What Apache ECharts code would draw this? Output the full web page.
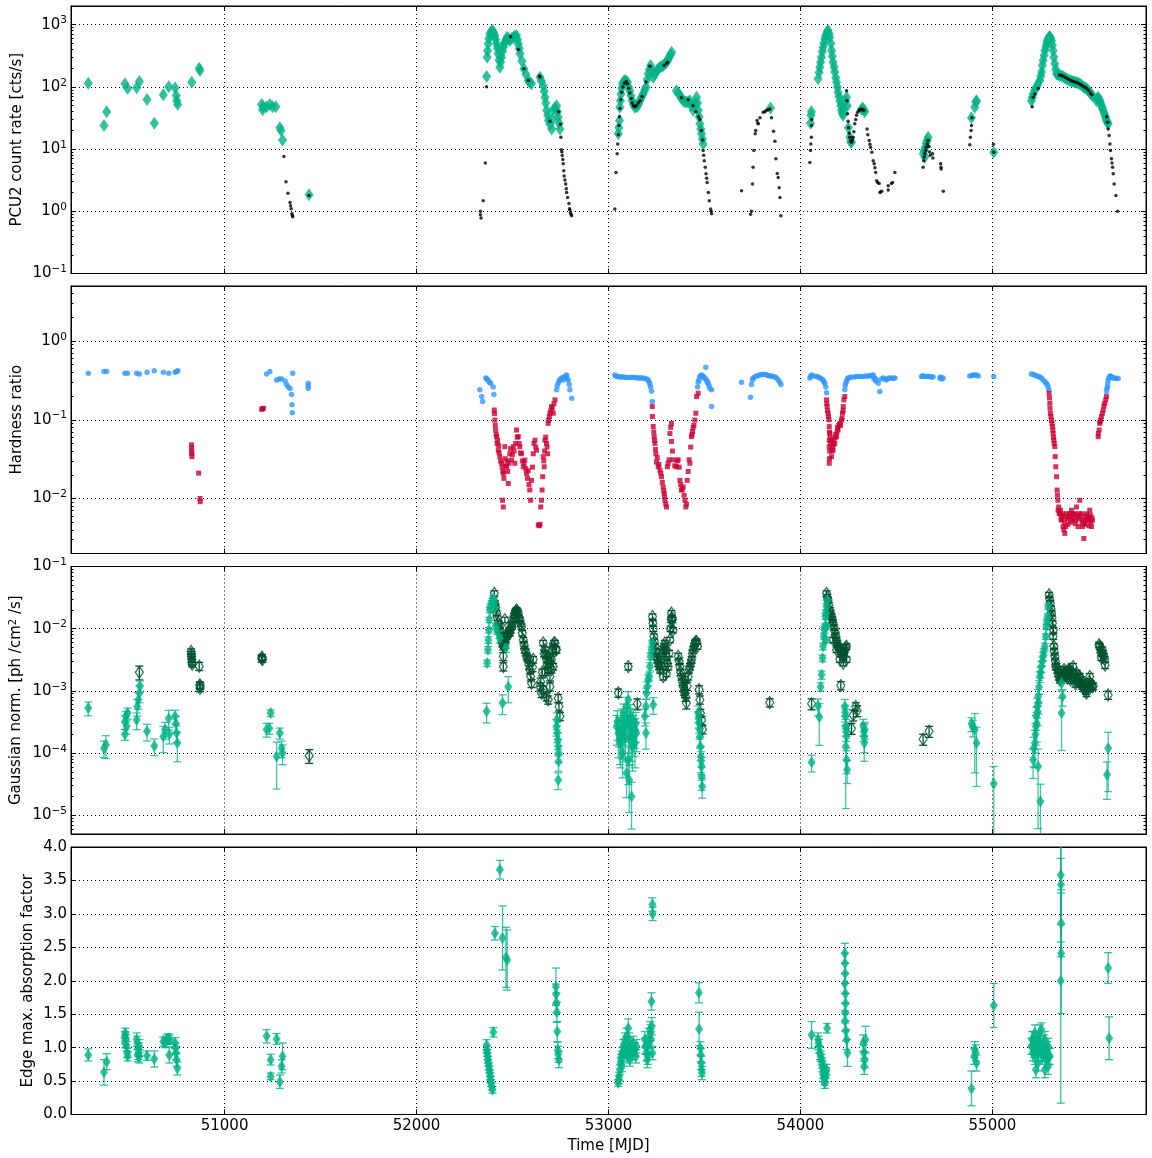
<!DOCTYPE html>
<html><head><meta charset="utf-8">
<script src="https://cdn.jsdelivr.net/npm/echarts@6/dist/echarts.min.js"></script>
<style>html,body{margin:0;padding:0;background:#fff}#c{width:1152px;height:1158px}</style>
</head><body><div id="c"></div>
<script>
// ---------------- DATA ----------------
const xRange = [50200, 55800];
// Panel 1: PCU2 count rate (cts/s)
const rateDiamonds = [
[50290,115],[50372,24],[50386,40],[50481,112],[50495,94],[50542,97],[50556,122],[50596,63],[50634,26],[50681,75],[50709,101],[50742,97],[50748,73],[50751,60],[50756,52],[50829,119],[50868,200],[50872,184],
[51193,52],[51198,43],[51202,48],[51219,48],[51236,52],[51250,48],[51267,48],[51288,22],[51294,20],[51302,14],[51440,1.85],
[52365,147],[52368,300],[52370,380],[52373,494],[52377,600],[52382,716],[52389,780],[52396,810],[52402,740],[52408,673],[52412,580],[52417,494],[52421,420],[52425,341],[52430,270],[52434,208],[52438,250],[52443,300],[52448,370],[52452,436],[52456,480],[52460,525],[52466,580],[52472,631],[52479,600],[52486,558],[52495,600],[52504,631],[52512,650],[52521,673],[52526,580],[52530,494],[52535,420],[52539,341],[52549,260],[52559,196],[52570,160],[52582,127],[52590,118],[52599,112],[52643,143],[52650,125],[52660,105],[52665,85],[52669,68],[52673,55],[52678,42],[52683,35],[52687,29],[52695,25],[52704,21],[52708,30],[52712,42],[52720,46],[52730,50],[52734,40],[52738,32.5],[52743,26],[52747,21],
[53051,17.6],[53054,22],[53057,28.8],[53059,47],[53062,60],[53065,77],[53069,95],[53073,112],[53079,122],[53085,127],[53092,125],[53099,119],[53105,100],[53111,87],[53117,72],[53123,60],[53130,52],[53137,47],[53149,48],[53157,53],[53164,60],[53172,68],[53181,77],[53188,88],[53195,99],[53201,130],[53207,162],[53213,190],[53219,221],[53226,180],[53233,143],[53242,160],[53251,184],[53260,196],[53268,208],[53277,215],[53285,221],[53294,235],[53303,250],[53310,270],[53316,300],[53323,330],[53329,362],
[53354,87],[53363,80],[53372,73],[53380,66],[53389,60],[53398,58],[53407,57],[53415,58],[53424,60],[53432,50],[53441,42],[53450,55],[53459,68],[53464,55],[53468,42],[53472,33],[53476,25.5],[53481,21],[53485,17.6],[53489,14.5],[53493,12.1],
[53844,46],
[54052,26],[54055,35],[54057,40],[54092,135],[54097,170],[54101,208],[54105,250],[54109,300],[54114,370],[54118,436],[54122,510],[54127,596],[54131,660],[54136,716],[54140,780],[54144,810],[54149,720],[54153,631],[54158,500],[54162,385],[54166,310],[54170,250],[54175,210],[54179,173],[54184,140],[54188,119],[54192,100],[54196,82],[54201,70],[54205,60],[54210,50],[54214,42],[54218,38],[54222,35],[54228,45],[54235,60],[54240,68],[54244,50],[54250,22],[54257,15.5],[54262,13],[54266,12.9],[54318,44],[54325,46],[54330,42],[54335,40],
[54640,8.4],[54645,9.5],[54650,10.7],[54655,12.5],[54660,13.7],[54665,15.5],[54648,7.5],
[54891,32],[54908,47],[54914,57],[54917,60],[55007,8.9],
[55203,60],[55208,68],[55212,77],[55220,88],[55229,99],[55238,112],[55247,127],[55252,150],[55256,173],[55260,220],[55264,266],[55269,320],[55273,385],[55278,440],[55282,494],[55286,550],[55290,596],[55295,630],[55299,648],[55303,610],[55308,558],[55312,470],[55316,385],[55320,300],[55325,236],[55330,190],[55334,162],[55342,157],[55351,153],[55360,150],[55368,147],[55377,140],[55386,135],[55395,130],[55403,127],[55412,124],[55420,122],[55429,120],[55438,119],[55446,115],[55455,112],[55464,106],[55473,101],[55481,97],[55490,94],[55498,88],[55507,82],[55514,77],[55521,73],
[55542,60],[55546,65],[55551,68],[55555,64],[55559,60],[55563,55],[55568,50],[55572,46],[55577,42],[55581,38],[55586,35],[55590,32],[55594,29],[55599,27],[55603,25.5]
];
const rateDots = [
[51309,7.6],[51320,3.0],[51330,1.95],[51341,1.39],[51344,1.23],[51347,1.1],[51351,0.91],[51355,0.82],[51353,0.86],[51440,1.8],
[52333,0.88],[52333,1.0],[52336,0.78],[52347,1.48],[52358,6.0],[52365,101],[52490,640],[52530,400],[52559,196],[52582,127],[52640,150],[52643,145],[52695,28],[52740,40],[52750,25],[52752,15.5],[52755,9.8],[52757,9.0],[52759,7.9],[52762,6.8],[52764,5.8],[52767,4.5],[52769,3.7],[52773,3.2],[52777,2.75],[52780,2.3],[52782,2.0],[52787,1.67],[52794,1.34],[52797,1.1],[52799,1.05],[52802,0.95],[52805,0.9],[52808,0.85],
[53033,1.09],[53039,4.2],[53045,8.4],[53048,12.1],[53051,17],[53054,24],[53057,33],[53060,45],[53064,62],[53068,82],[53075,100],[53083,115],[53092,122],[53099,112],[53105,95],[53111,80],[53118,65],[53123,55],[53130,50],[53137,48],[53145,50],[53155,55],[53165,60],[53175,70],[53195,120],[53216,215],[53290,220],[53303,240],[53308,250],[53380,67],[53415,62],[53440,50],[53455,40],[53468,33],[53476,30],[53484,20],[53490,14],[53493,9.5],[53496,8],[53499,6.5],[53504,5.1],[53508,4.0],[53511,3.4],[53514,2.9],[53520,2.0],[53525,1.48],[53532,1.09],[53535,1.0],[53537,0.91],
[53693,2.15],[53740,0.9],[53745,1.0],[53750,2.75],[53753,5.1],[53757,9.5],[53764,17.6],[53767,19.9],[53774,28.8],[53778,26],[53780,25.5],[53789,32],[53806,39],[53815,40],[53823,42],[53832,43],[53841,44],[53849,32],[53860,19.4],[53867,13.4],[53872,7.0],[53879,4.07],[53884,3.5],[53889,2.4],[53893,1.67],[53898,0.85],
[54049,6.1],[54052,9.5],[54054,12.1],[54057,15.5],[54058,24],[54059,30],[54240,87],[54242,60],[54245,37],[54248,28],[54250,22],[54254,18],[54257,15.5],[54262,13.5],[54266,12.9],[54270,14],[54274,15.5],[54278,19],[54283,25.5],[54288,30],[54292,35],[54298,39],[54305,42],[54311,43],[54318,44],[54324,43],[54330,42],[54347,21],[54351,17],[54358,13.7],[54362,12],[54365,10.7],[54372,8.9],[54379,6.5],[54384,5.8],[54388,5.0],[54392,4.2],[54397,3.1],[54402,2.9],[54410,2.8],[54414,2.0],[54418,2.05],[54423,2.1],[54457,2.2],[54457,2.58],[54474,2.8],[54480,2.9],[54492,4.2],
[54639,5.1],[54642,6.5],[54645,7.5],[54648,8.4],[54652,9.5],[54655,10.7],[54660,12.1],[54665,13.7],[54670,11],[54673,9],[54676,8],[54688,8.4],[54690,7.2],[54730,5.8],[54732,5.1],[54733,4.8],[54744,2.1],
[54882,11.8],[54885,15.5],[54889,19.9],[54891,24],[54893,32],
[55005,12],[55007,8.9],[55207,48],[55212,68],[55221,77],[55238,94],[55350,155],[55360,152],[55370,148],[55380,142],[55390,137],[55400,130],[55410,126],[55420,122],[55430,120],[55440,118],[55450,114],[55460,108],[55470,103],[55480,100],[55490,95],[55500,88],[55510,80],[55518,75],[55595,33],[55600,27],[55603,21],[55608,16.5],[55612,12.1],[55615,9.5],[55620,7.0],[55623,6.0],[55626,5.1],[55629,4.0],[55634,2.75],[55643,1.79],[55652,1.0]
];
// Panel 2: hardness ratio
const hardSoft = [
[50290,0.39],[50372,0.41],[50386,0.41],[50481,0.39],[50495,0.39],[50542,0.39],[50556,0.38],[50596,0.40],[50634,0.42],[50681,0.40],[50709,0.39],[50742,0.40],[50751,0.41],[50756,0.42],
[51219,0.38],[51236,0.41],[51271,0.32],[51285,0.33],[51297,0.33],[51315,0.31],[51323,0.28],[51332,0.26],[51341,0.25],[51349,0.21],[51351,0.155],[51353,0.123],[51355,0.39],[51436,0.29],[51436,0.25],[51436,0.27],
[52330,0.24],[52339,0.197],[52344,0.17],[52361,0.34],[52366,0.33],[52373,0.32],[52380,0.30],[52386,0.29],[52399,0.26],[52403,0.21],
[52730,0.24],[52733,0.27],[52738,0.29],[52742,0.31],[52747,0.32],[52752,0.33],[52756,0.34],[52764,0.32],[52768,0.35],[52773,0.34],[52778,0.36],[52782,0.37],[52786,0.33],[52790,0.32],[52795,0.28],[52799,0.24],[52808,0.188],
[53033,0.37],[53040,0.355],[53050,0.355],[53060,0.35],[53070,0.35],[53080,0.35],[53090,0.345],[53100,0.345],[53110,0.345],[53120,0.345],[53130,0.345],[53140,0.345],[53150,0.34],[53160,0.34],[53170,0.34],[53180,0.34],[53190,0.335],[53200,0.33],[53207,0.32],[53212,0.30],[53216,0.28],[53219,0.26],[53224,0.23],[53228,0.17],
[53464,0.26],[53467,0.30],[53471,0.32],[53476,0.355],[53480,0.36],[53485,0.37],[53489,0.36],[53493,0.355],[53498,0.34],[53502,0.34],[53507,0.466],[53511,0.32],[53515,0.30],[53519,0.29],[53524,0.27],[53528,0.25],[53537,0.24],[53537,0.147],
[53693,0.30],[53740,0.193],[53745,0.28],[53750,0.32],[53754,0.34],[53762,0.35],[53771,0.36],[53780,0.365],[53789,0.37],[53798,0.375],[53806,0.375],[53815,0.375],[53823,0.37],[53832,0.365],[53840,0.36],[53849,0.36],[53858,0.355],[53866,0.35],[53875,0.34],[53884,0.32],[53893,0.30],[53898,0.28],
[54049,0.34],[54053,0.36],[54058,0.37],[54070,0.36],[54084,0.355],[54092,0.35],[54101,0.34],[54110,0.33],[54118,0.32],[54123,0.30],[54127,0.29],[54132,0.26],[54136,0.22],
[54231,0.24],[54233,0.27],[54236,0.29],[54240,0.31],[54245,0.33],[54249,0.34],[54257,0.345],[54266,0.35],[54280,0.35],[54292,0.355],[54305,0.355],[54315,0.355],[54327,0.355],[54340,0.36],[54350,0.36],[54361,0.36],[54370,0.365],[54379,0.37],[54383,0.33],[54387,0.34],[54392,0.31],[54396,0.32],[54405,0.29],[54413,0.228],[54422,0.33],[54431,0.34],[54440,0.33],[54448,0.32],[54457,0.335],[54466,0.34],[54475,0.34],[54484,0.335],[54492,0.34],
[54631,0.355],[54635,0.36],[54639,0.36],[54648,0.355],[54657,0.355],[54665,0.355],[54674,0.355],[54683,0.35],[54691,0.35],[54726,0.34],[54730,0.35],[54735,0.33],[54743,0.34],
[54882,0.36],[54891,0.365],[54900,0.37],[54908,0.37],[54917,0.37],[54926,0.36],
[55007,0.355],[55203,0.38],[55212,0.375],[55221,0.37],[55230,0.36],[55238,0.355],[55247,0.35],[55255,0.34],[55264,0.32],[55273,0.305],[55280,0.29],[55285,0.28],[55290,0.26],[55294,0.24],
[55594,0.228],[55597,0.25],[55599,0.26],[55601,0.29],[55603,0.32],[55607,0.34],[55611,0.355],[55615,0.36],[55620,0.35],[55625,0.345],[55629,0.34],[55638,0.34],[55646,0.335],[55655,0.335]
];
const hardHard = [
[50828,0.048],[50828,0.044],[50829,0.040],[50829,0.037],[50830,0.034],[50865,0.021],[50872,0.010],[50873,0.0091],
[51193,0.136],[51198,0.138],[51202,0.14],
[52405,0.133],[52406,0.12],[52408,0.099],[52410,0.085],[52412,0.074],[52415,0.065],[52417,0.061],[52420,0.050],[52422,0.055],[52426,0.041],[52428,0.047],[52430,0.038],[52434,0.034],[52438,0.030],[52443,0.028],[52446,0.025],[52448,0.0095],[52450,0.022],[52452,0.0078],[52452,0.0208],[52455,0.018],[52460,0.0455],[52462,0.032],[52465,0.026],[52469,0.0253],[52472,0.03],[52475,0.022],[52478,0.0155],[52482,0.028],[52486,0.037],[52490,0.043],[52495,0.0308],[52499,0.036],[52504,0.0455],[52508,0.04],[52512,0.028],[52516,0.05],[52521,0.074],[52525,0.06],[52530,0.061],[52534,0.05],[52538,0.0455],[52542,0.038],[52547,0.037],[52551,0.03],[52556,0.0253],[52560,0.028],[52564,0.0308],[52569,0.024],[52573,0.0208],[52578,0.018],[52582,0.0225],[52586,0.015],[52590,0.0128],[52594,0.0095],[52599,0.017],[52604,0.025],[52608,0.037],[52612,0.05],[52617,0.055],[52621,0.045],[52625,0.041],[52634,0.0046],[52640,0.0045],[52643,0.0047],[52647,0.0078],[52651,0.0095],[52654,0.0128],[52657,0.0189],[52660,0.034],[52663,0.03],[52665,0.0253],[52667,0.04],[52669,0.055],[52673,0.06],[52677,0.050],[52680,0.045],[52683,0.037],[52686,0.09],[52688,0.099],[52692,0.11],[52695,0.121],[52699,0.13],[52703,0.147],[52707,0.14],[52712,0.121],[52716,0.16],[52721,0.179],
[53228,0.147],[53229,0.11],[53233,0.082],[53236,0.07],[53238,0.061],[53240,0.055],[53242,0.050],[53245,0.042],[53247,0.037],[53250,0.029],[53254,0.033],[53259,0.0253],[53263,0.027],[53268,0.023],[53272,0.021],[53276,0.0189],[53280,0.016],[53285,0.014],[53288,0.0125],[53290,0.0116],[53292,0.0105],[53294,0.0095],[53298,0.0085],[53302,0.0078],[53307,0.0253],[53311,0.028],[53316,0.031],[53320,0.067],[53324,0.08],[53328,0.09],[53328,0.053],[53333,0.04],[53337,0.031],[53345,0.026],[53354,0.0253],[53358,0.03],[53363,0.031],[53368,0.025],[53372,0.017],[53376,0.015],[53380,0.0128],[53384,0.013],[53389,0.014],[53394,0.011],[53398,0.0095],[53403,0.0078],[53406,0.0085],[53410,0.017],[53415,0.022],[53420,0.031],[53424,0.028],[53428,0.045],[53432,0.061],[53435,0.065],[53438,0.071],[53441,0.08],[53445,0.085],[53450,0.099],[53455,0.121],[53459,0.197],[53467,0.217],
[54136,0.179],[54137,0.16],[54139,0.147],[54141,0.13],[54144,0.121],[54146,0.11],[54148,0.1],[54150,0.082],[54152,0.07],[54150,0.055],[54153,0.067],[54155,0.06],[54150,0.0455],[54152,0.04],[54150,0.028],[54151,0.032],[54157,0.05],[54160,0.055],[54162,0.034],[54164,0.04],[54166,0.045],[54170,0.041],[54172,0.048],[54175,0.056],[54179,0.050],[54182,0.06],[54184,0.065],[54188,0.061],[54190,0.07],[54193,0.08],[54196,0.074],[54200,0.085],[54205,0.09],[54209,0.085],[54214,0.099],[54217,0.105],[54219,0.121],[54222,0.13],[54223,0.147],[54226,0.179],[54231,0.197],
[55295,0.217],[55297,0.19],[55299,0.162],[55300,0.14],[55302,0.121],[55305,0.11],[55308,0.099],[55310,0.09],[55313,0.082],[55315,0.074],[55316,0.067],[55318,0.06],[55320,0.055],[55322,0.05],[55325,0.0455],[55327,0.034],[55330,0.0253],[55334,0.0189],[55337,0.0128],[55339,0.011],[55341,0.0095],[55342,0.0071],[55345,0.0078],[55348,0.0065],[55351,0.0064],[55354,0.0071],[55357,0.0055],[55360,0.0053],[55363,0.006],[55365,0.0064],[55368,0.0044],[55372,0.004],[55375,0.005],[55377,0.0036],[55380,0.0058],[55382,0.0044],[55386,0.0064],[55390,0.0055],[55394,0.0047],[55398,0.006],[55400,0.0064],[55403,0.0058],[55407,0.005],[55412,0.0071],[55415,0.0055],[55417,0.0064],[55420,0.0053],[55424,0.0062],[55429,0.0064],[55432,0.0048],[55434,0.0053],[55438,0.0078],[55442,0.006],[55446,0.0044],[55450,0.0055],[55452,0.0064],[55455,0.0095],[55460,0.0058],[55464,0.0064],[55467,0.005],[55469,0.0044],[55472,0.0053],[55476,0.0031],[55478,0.0048],[55481,0.0047],[55484,0.006],[55486,0.0053],[55490,0.0064],[55494,0.0055],[55498,0.0053],[55502,0.0045],[55504,0.0058],[55507,0.0071],[55510,0.0062],[55513,0.005],[55516,0.0044],[55518,0.0057],[55521,0.0053],
[55551,0.061],[55552,0.067],[55556,0.074],[55559,0.09],[55561,0.094],[55563,0.099],[55568,0.11],[55573,0.121],[55577,0.133],[55581,0.15],[55585,0.162],[55590,0.179],[55594,0.197]
];
// Panel 3: Gaussian norm. [mjd, value, relative error]
const gaussFilled = [
[50290,5.3e-4,0.25],[50372,1.2e-4,0.3],[50382,1.36e-4,0.4],[50481,3.2e-4,0.25],[50486,3.9e-4,0.2],[50490,2.7e-4,0.25],[50495,4.4e-4,0.2],[50481,2.0e-4,0.2],[50542,3.4e-4,0.3],[50545,5.6e-4,0.3],[50551,7.2e-4,0.3],[50556,9.2e-4,0.3],[50559,1.2e-3,0.2],[50596,2.24e-4,0.3],[50634,1.3e-4,0.3],[50681,1.85e-4,0.45],[50690,2.4e-4,0.3],[50709,3.6e-4,0.35],[50712,2.0e-4,0.3],[50742,3.9e-4,0.25],[50747,3.0e-4,0.3],[50750,2.1e-4,0.3],[50754,1.45e-4,0.5],
[51219,2.4e-4,0.25],[51233,2.5e-4,0.2],[51240,4.4e-4,0.12],[51271,8.8e-5,0.7],[51288,2.1e-4,0.2],[51297,1.2e-4,0.3],[51302,1.0e-4,0.35],
[52365,4.7e-4,0.35],[52368,2.8e-3,0.12],[52372,4.6e-3,0.12],[52374,6.6e-3,0.12],[52377,9.5e-3,0.1],[52379,1.39e-2,0.1],[52382,2.0e-2,0.1],[52386,2.3e-2,0.1],[52391,2.57e-2,0.1],[52395,2.8e-2,0.1],[52400,3.1e-2,0.1],[52404,2.9e-2,0.1],[52408,2.2e-2,0.1],[52413,1.08e-2,0.1],[52420,9.0e-3,0.1],[52434,7.0e-3,0.15],[52448,6.4e-4,0.35],[52466,4.9e-3,0.15],[52478,1.17e-3,0.45],
[52729,2.68e-4,0.3],[52731,3.4e-4,0.3],[52733,2.1e-4,0.3],[52736,1.63e-4,0.3],[52738,1.28e-4,0.3],[52740,1.0e-4,0.3],[52740,7.3e-5,0.3],[52738,3.7e-5,0.3],
[53042,2.68e-4,0.5],[53046,3.2e-4,0.5],[53051,2.1e-4,0.6],[53055,2.5e-4,0.5],[53059,1.63e-4,0.6],[53063,1.45e-4,0.6],[53068,3.4e-4,0.5],[53071,2.0e-4,0.6],[53073,1.0e-4,0.6],[53077,4.4e-4,0.4],[53080,2.1e-4,0.6],[53083,3.0e-4,0.5],[53085,2.68e-4,0.5],[53088,1.8e-4,0.6],[53094,5.6e-4,0.4],[53094,4.8e-5,0.6],[53098,3.6e-4,0.5],[53103,7.2e-4,0.35],[53103,7.8e-5,0.6],[53106,2.5e-4,0.6],[53108,3.7e-5,0.7],[53111,3.4e-4,0.5],[53111,1.63e-4,0.6],[53115,4.0e-4,0.5],[53120,1.85e-4,0.6],[53120,2.0e-5,0.7],[53125,1.28e-4,0.6],[53129,2.68e-4,0.5],[53129,3.4e-4,0.5],[53133,2.2e-4,0.6],[53138,1.45e-4,0.6],[53138,2.4e-4,0.5],[53142,3.0e-4,0.5],[53146,2.1e-4,0.5],
[53189,3.9e-4,0.3],[53195,5.6e-4,0.3],[53195,2.1e-4,0.45],[53198,9.2e-4,0.2],[53202,1.17e-3,0.2],[53207,1.51e-3,0.2],[53212,1.7e-3,0.15],[53216,2.46e-3,0.15],[53219,3.6e-3,0.12],[53224,4.6e-3,0.1],[53228,5.9e-3,0.1],[53233,6.0e-4,0.3],
[53467,4.4e-4,0.3],[53469,3.6e-4,0.3],[53472,3.0e-4,0.3],[53474,2.4e-4,0.3],[53476,1.85e-4,0.35],[53479,1.28e-4,0.4],[53481,8.8e-5,0.45],[53483,7.5e-5,0.4],[53485,6.1e-5,0.4],[53485,4.2e-5,0.4],[53488,2.9e-5,0.35],
[54058,7.1e-5,0.3],[54092,5.7e-4,0.3],[54098,3.8e-4,0.65],[54105,1.17e-3,0.15],[54110,1.81e-3,0.15],[54115,3.36e-3,0.12],[54118,5.2e-3,0.12],[54122,7.5e-3,0.1],[54125,9.5e-3,0.1],[54127,1.08e-2,0.1],[54130,1.57e-2,0.1],[54133,1.8e-2,0.1],[54136,2.27e-2,0.1],[54139,2.9e-2,0.1],[54136,1.1e-2,0.1],[54132,6.6e-3,0.1],
[54231,5.6e-4,0.3],[54233,4.5e-4,0.3],[54235,3.9e-4,0.3],[54236,2.68e-4,0.3],[54238,2.2e-4,0.3],[54240,1.85e-4,0.35],[54236,1.28e-4,0.9],[54240,7.8e-5,0.4],[54243,5.4e-5,0.4],[54327,2.68e-4,0.3],[54330,2.2e-4,0.3],[54332,1.85e-4,0.6],[54335,2.4e-4,0.3],[54333,1.45e-4,0.3],
[54891,2.95e-4,0.25],[54898,2.6e-4,0.3],[54908,2.4e-4,0.8],[54917,1.45e-4,0.8],
[55007,3.2e-5,0.9],
[55212,7.8e-5,0.5],[55215,1.2e-4,0.5],[55221,1.45e-4,0.6],[55224,2.0e-4,0.5],[55226,2.68e-4,0.5],[55229,3.9e-4,0.4],[55231,3.0e-4,0.5],[55233,5.6e-4,0.35],[55236,4.6e-4,0.4],[55238,8.1e-4,0.3],[55238,6.1e-5,0.9],[55241,6.5e-4,0.35],[55243,1.17e-3,0.25],[55247,1.7e-3,0.2],[55250,1.66e-5,0.9],[55251,2.0e-3,0.2],[55255,2.46e-3,0.2],[55260,3.0e-3,0.15],[55264,3.6e-3,0.15],[55268,4.3e-3,0.12],[55273,5.2e-3,0.12],[55278,7.5e-3,0.1],[55281,1.08e-2,0.1],[55284,1.3e-2,0.1],[55287,1.57e-2,0.1],[55290,2.27e-2,0.1],
[55360,1.33e-3,0.25],[55365,8.1e-4,0.3],[55360,4.4e-4,0.75],
[55597,4.5e-5,0.6],[55603,1.2e-4,0.8]
];
const gaussHollow = [
[50556,2.0e-3,0.25],[50826,4.3e-3,0.1],[50827,3.9e-3,0.1],[50828,3.6e-3,0.1],[50829,3.2e-3,0.1],[50830,2.9e-3,0.1],[50831,2.7e-3,0.1],[50868,2.5e-3,0.15],[50871,1.25e-3,0.12],[50872,1.1e-3,0.12],[50873,1.2e-3,0.12],
[51193,3.3e-3,0.12],[51195,3.5e-3,0.1],[51198,3.2e-3,0.1],[51441,9.1e-5,0.25],
[52405,3.7e-2,0.1],[52408,2.57e-2,0.1],[52412,2.2e-2,0.1],[52417,1.78e-2,0.1],[52421,1.5e-2,0.1],[52426,1.23e-2,0.1],[52430,1.1e-2,0.1],[52434,9.5e-3,0.1],[52438,8.0e-3,0.1],[52443,6.6e-3,0.1],[52447,5.8e-3,0.12],[52452,5.2e-3,0.12],[52452,3.6e-3,0.15],[52456,5.5e-3,0.12],[52460,5.9e-3,0.12],[52460,1.39e-2,0.1],[52452,2.46e-3,0.15],[52465,6.8e-3,0.1],[52469,7.5e-3,0.1],[52474,8.0e-3,0.1],[52478,8.5e-3,0.1],[52482,9.5e-3,0.1],[52486,8.5e-3,0.1],[52490,9.5e-3,0.1],[52495,1.08e-2,0.1],[52499,1.2e-2,0.1],[52504,1.39e-2,0.1],[52508,1.6e-2,0.1],[52512,1.8e-2,0.1],[52517,1.9e-2,0.1],[52521,2.0e-2,0.1],[52525,1.9e-2,0.1],[52530,1.78e-2,0.1],[52534,1.5e-2,0.1],[52538,1.39e-2,0.1],[52542,1.2e-2,0.1],[52547,1.08e-2,0.1],[52551,8.5e-3,0.1],[52556,6.6e-3,0.1],[52560,5.5e-3,0.12],[52564,4.6e-3,0.12],[52569,4.2e-3,0.12],[52573,3.6e-3,0.12],[52578,3.4e-3,0.12],[52582,3.2e-3,0.12],[52586,2.6e-3,0.15],[52590,2.2e-3,0.15],[52595,1.7e-3,0.15],[52599,1.33e-3,0.15],[52604,2.4e-3,0.15],[52608,3.2e-3,0.12],
[52643,1.17e-3,0.15],[52647,1.4e-3,0.15],[52651,9.2e-4,0.15],[52655,2.0e-3,0.12],[52660,5.9e-3,0.1],[52660,1.05e-3,0.15],[52664,4.0e-3,0.12],[52669,4.6e-3,0.1],[52669,2.0e-3,0.12],[52673,3.8e-3,0.12],[52677,3.2e-3,0.12],[52677,8.1e-4,0.15],[52681,2.6e-3,0.12],[52686,2.2e-3,0.12],[52686,7.2e-4,0.15],[52690,3.0e-3,0.12],[52695,1.7e-3,0.15],[52695,1.17e-3,0.15],[52699,3.5e-3,0.12],[52703,3.2e-3,0.12],[52703,2.2e-3,0.12],[52708,4.5e-3,0.12],[52712,5.2e-3,0.1],[52712,2.46e-3,0.12],[52716,5.9e-3,0.1],[52721,5.9e-3,0.1],[52725,4.6e-3,0.12],[52729,4.6e-3,0.12],[52738,7.6e-4,0.15],[52742,5.6e-4,0.15],[52747,3.9e-4,0.15],
[53051,9.3e-4,0.15],[53103,2.46e-3,0.12],[53150,6.2e-4,0.2],
[53229,1.57e-2,0.1],[53231,1.23e-2,0.1],[53233,1.0e-2,0.1],[53236,7.5e-3,0.1],[53239,6.2e-3,0.1],[53242,5.2e-3,0.1],[53246,4.3e-3,0.12],[53250,3.6e-3,0.12],[53255,3.2e-3,0.12],[53259,2.8e-3,0.12],[53264,2.5e-3,0.12],[53268,2.2e-3,0.12],[53272,2.6e-3,0.12],[53276,3.2e-3,0.12],[53280,4.0e-3,0.12],[53285,4.6e-3,0.12],[53290,5.2e-3,0.1],[53294,5.9e-3,0.1],[53298,4.5e-3,0.1],[53302,3.6e-3,0.12],[53302,1.93e-3,0.12],[53306,2.8e-3,0.12],[53311,2.46e-3,0.12],[53316,4.0e-3,0.12],[53320,6.6e-3,0.1],[53323,1.0e-2,0.1],[53326,1.4e-2,0.1],[53328,1.78e-2,0.1],[53331,1.5e-2,0.1],[53333,1.39e-2,0.1],[53336,9.5e-3,0.1],[53285,1.7e-3,0.12],
[53363,3.6e-3,0.12],[53368,3.0e-3,0.12],[53372,2.46e-3,0.12],[53376,2.0e-3,0.12],[53380,1.7e-3,0.12],[53385,1.4e-3,0.12],[53389,1.17e-3,0.15],[53394,1.0e-3,0.15],[53398,9.2e-4,0.15],[53402,8.0e-4,0.15],[53406,6.4e-4,0.2],[53398,1.51e-3,0.12],[53410,1.2e-3,0.15],[53415,1.7e-3,0.12],[53420,2.2e-3,0.12],[53424,2.46e-3,0.12],[53429,2.8e-3,0.12],[53433,3.2e-3,0.12],[53437,4.0e-3,0.12],[53441,4.6e-3,0.12],[53446,5.2e-3,0.1],[53450,5.9e-3,0.1],[53455,6.2e-3,0.1],[53459,6.2e-3,0.1],[53464,5.2e-3,0.1],[53472,1.05e-3,0.15],[53476,7.2e-4,0.15],[53479,4.4e-4,0.15],[53485,3.4e-4,0.15],[53490,2.4e-4,0.15],
[53840,6.5e-4,0.15],
[54058,6.2e-4,0.2],[54136,3.7e-2,0.1],[54140,3.2e-2,0.1],[54144,2.9e-2,0.1],[54148,2.4e-2,0.1],[54153,2.0e-2,0.1],[54157,1.78e-2,0.1],[54162,1.57e-2,0.1],[54166,1.4e-2,0.1],[54170,1.23e-2,0.1],[54175,1.05e-2,0.1],[54179,9.0e-3,0.1],[54184,7.8e-3,0.1],[54188,6.6e-3,0.1],[54192,5.9e-3,0.1],[54196,5.2e-3,0.1],[54201,4.9e-3,0.1],[54205,4.6e-3,0.1],[54210,4.3e-3,0.1],[54214,4.05e-3,0.1],[54218,3.8e-3,0.1],[54223,3.6e-3,0.1],[54227,4.2e-3,0.1],[54231,4.6e-3,0.1],[54235,5.0e-3,0.1],[54240,5.2e-3,0.1],[54170,6.6e-3,0.1],[54188,4.6e-3,0.1],[54205,3.2e-3,0.1],[54223,2.8e-3,0.1],[54240,3.2e-3,0.1],[54210,1.22e-3,0.15],[54266,2.5e-4,0.2],[54275,4.1e-4,0.2],[54288,5.6e-4,0.15],[54295,4.8e-4,0.2],
[54639,1.67e-4,0.2],[54670,2.24e-4,0.2],
[55295,3.5e-2,0.1],[55298,3.0e-2,0.1],[55302,2.57e-2,0.1],[55305,2.1e-2,0.1],[55308,1.78e-2,0.1],[55310,1.5e-2,0.1],[55313,1.23e-2,0.1],[55316,7.5e-3,0.1],[55318,9.5e-3,0.1],[55320,5.2e-3,0.1],[55322,4.3e-3,0.12],[55325,3.6e-3,0.12],[55328,3.0e-3,0.12],[55330,2.46e-3,0.12],[55334,2.46e-3,0.12],[55338,2.2e-3,0.12],[55342,1.93e-3,0.12],[55346,1.7e-3,0.12],[55351,1.51e-3,0.12],[55356,1.6e-3,0.12],[55360,1.7e-3,0.12],[55364,2.0e-3,0.12],[55368,1.7e-3,0.12],[55373,2.2e-3,0.12],[55377,1.8e-3,0.12],[55382,2.0e-3,0.12],[55386,1.93e-3,0.12],[55390,1.6e-3,0.12],[55395,2.2e-3,0.12],[55399,1.9e-3,0.12],[55403,2.2e-3,0.12],[55407,1.5e-3,0.12],[55412,1.7e-3,0.12],[55416,2.0e-3,0.12],[55420,2.46e-3,0.12],[55424,1.8e-3,0.12],[55429,1.5e-3,0.12],[55433,1.3e-3,0.12],[55438,1.93e-3,0.12],[55442,1.6e-3,0.12],[55446,1.4e-3,0.12],[55451,1.7e-3,0.12],[55455,1.7e-3,0.12],[55459,1.3e-3,0.12],[55464,1.5e-3,0.12],[55468,1.2e-3,0.12],[55472,1.33e-3,0.12],[55477,1.1e-3,0.12],[55481,1.2e-3,0.12],[55486,1.0e-3,0.12],[55490,9.2e-4,0.12],[55494,1.1e-3,0.12],[55498,1.17e-3,0.12],[55503,1.4e-3,0.12],[55507,1.7e-3,0.12],[55512,1.3e-3,0.12],[55516,1.2e-3,0.12],[55521,1.17e-3,0.12],[55525,1.2e-3,0.12],
[55555,5.5e-3,0.1],[55559,5.2e-3,0.1],[55563,4.6e-3,0.1],[55566,4.05e-3,0.1],[55568,3.4e-3,0.1],[55572,4.6e-3,0.1],[55577,4.0e-3,0.1],[55580,3.6e-3,0.1],[55585,3.2e-3,0.1],[55587,2.6e-3,0.12],[55603,8.6e-4,0.15]
];
// Panel 4: edge max. absorption factor [mjd, value, abs error]
const edgeFactor = [
[50290,0.89,0.09],[50372,0.63,0.19],[50386,0.79,0.12],[50481,1.17,0.07],[50481,1.07,0.07],[50483,1.22,0.07],[50486,1.12,0.07],[50490,1.02,0.07],[50493,0.92,0.07],[50495,0.87,0.07],[50542,1.12,0.1],[50545,1.07,0.1],[50548,0.89,0.1],[50551,0.92,0.1],[50553,0.97,0.1],[50556,0.87,0.1],[50556,1.02,0.1],[50596,0.88,0.07],[50634,0.83,0.12],[50681,1.09,0.07],[50690,1.07,0.07],[50698,1.12,0.07],[50707,1.14,0.07],[50712,0.89,0.12],[50715,1.12,0.07],[50742,1.07,0.08],[50745,0.99,0.08],[50747,0.92,0.1],[50750,0.82,0.1],[50754,0.69,0.1],
[51219,1.17,0.1],[51240,0.82,0.08],[51240,0.57,0.05],[51271,1.13,0.08],[51288,0.49,0.1],[51297,0.72,0.1],[51302,0.87,0.2],
[52365,1.04,0.08],[52366,0.97,0.05],[52368,0.92,0.05],[52370,0.87,0.05],[52372,0.82,0.05],[52374,0.77,0.05],[52377,0.72,0.05],[52379,0.67,0.05],[52382,0.62,0.05],[52384,0.57,0.05],[52386,0.52,0.05],[52389,0.47,0.05],[52391,0.42,0.05],[52396,0.37,0.05],[52400,1.23,0.07],[52408,2.71,0.1],[52434,3.66,0.14],[52448,2.64,0.48],[52466,2.35,0.45],[52472,2.31,0.45],
[52726,1.91,0.28],[52727,1.8,0.15],[52729,1.67,0.15],[52731,1.53,0.15],[52733,1.24,0.15],[52736,0.96,0.12],[52738,0.9,0.12],[52742,0.82,0.12],
[53051,0.47,0.05],[53053,0.52,0.06],[53056,0.57,0.06],[53059,0.67,0.07],[53063,0.77,0.08],[53066,0.82,0.08],[53068,0.87,0.08],[53070,0.72,0.08],[53073,0.92,0.08],[53077,1.02,0.1],[53080,0.97,0.1],[53085,1.12,0.1],[53090,0.95,0.1],[53094,1.17,0.12],[53098,0.87,0.1],[53103,1.29,0.14],[53106,1.0,0.1],[53108,1.12,0.1],[53111,0.82,0.1],[53115,0.97,0.1],[53120,0.92,0.1],[53125,0.92,0.1],[53129,1.07,0.1],[53133,0.97,0.1],[53138,0.97,0.1],[53143,0.87,0.1],[53146,1.02,0.1],
[53189,1.12,0.12],[53193,1.02,0.12],[53195,1.02,0.12],[53198,0.92,0.12],[53202,0.82,0.12],[53205,0.87,0.12],[53207,1.02,0.12],[53212,1.17,0.12],[53216,1.27,0.12],[53219,1.22,0.12],[53222,1.12,0.12],[53224,1.69,0.13],[53226,1.32,0.13],[53229,3.14,0.1],[53230,3.0,0.1],[53229,0.92,0.1],
[53471,1.82,0.15],[53472,1.28,0.25],[53479,0.99,0.1],[53481,0.89,0.1],[53483,0.77,0.1],[53485,0.67,0.1],[53487,0.62,0.1],
[54058,1.19,0.2],[54092,1.12,0.1],[54094,1.07,0.1],[54098,1.02,0.1],[54101,0.92,0.1],[54105,0.87,0.08],[54110,0.82,0.08],[54113,0.77,0.08],[54115,0.72,0.08],[54118,0.62,0.08],[54120,0.67,0.08],[54122,0.57,0.08],[54124,0.52,0.08],[54127,0.47,0.08],[54130,0.57,0.08],[54132,0.62,0.08],[54136,0.67,0.08],[54139,1.29,0.07],
[54231,2.41,0.15],[54232,2.26,0.15],[54233,2.11,0.15],[54231,1.96,0.15],[54234,1.81,0.15],[54235,1.66,0.15],[54233,1.52,0.15],[54232,1.4,0.15],[54236,1.25,0.15],[54240,1.12,0.15],[54245,0.92,0.2],
[54327,1.07,0.12],[54330,0.92,0.12],[54332,0.72,0.12],[54335,0.82,0.12],[54339,1.12,0.2],
[54891,0.39,0.26],[54905,0.87,0.12],[54908,0.97,0.12],[54913,0.92,0.12],[54917,0.77,0.12],
[55007,1.63,0.33],
[55203,1.02,0.12],[55206,1.12,0.12],[55210,0.92,0.12],[55212,1.12,0.12],[55215,1.02,0.12],[55218,0.97,0.12],[55221,1.22,0.12],[55221,0.87,0.12],[55224,1.02,0.12],[55226,0.67,0.12],[55229,1.02,0.12],[55233,1.12,0.12],[55236,0.92,0.12],[55238,1.12,0.12],[55238,0.77,0.12],[55242,1.02,0.12],[55247,1.22,0.12],[55250,0.97,0.12],[55255,1.02,0.12],[55255,1.27,0.1],[55260,0.87,0.12],[55264,0.92,0.12],[55268,1.07,0.12],[55273,1.12,0.12],[55273,0.67,0.12],[55277,0.92,0.12],[55281,0.82,0.12],[55285,0.97,0.12],[55290,0.72,0.12],[55290,1.02,0.12],[55295,0.87,0.12],[55299,0.87,0.12],
[55356,3.58,1.0],[55357,3.44,0.6],[55358,2.86,0.5],[55358,2.41,0.9],[55356,2.0,1.83],
[55603,2.19,0.23],[55608,1.14,0.32]
];
const yRanges = [[0.1, 2000], [0.002, 5], [5e-6, 0.1], [0, 4]];
const yNames = ['PCU2 count rate [cts/s]', 'Hardness ratio', 'Gaussian norm. [ph /cm{sup|2} /s]', 'Edge max. absorption factor'];

// ---------------- CHART ----------------
const FONT = 'DejaVu Sans';
const GREEN = '#00b386', DARK = '#00542f', BLUE = '#3399ff', RED = '#cc0033';
const gridTops = [6, 286, 566.5, 847];
const H = 267.5;
const grids = gridTops.map(t => ({left: 71, width: 1075, top: t, height: H, show: true, borderColor: '#000', borderWidth: 1, backgroundColor: 'transparent'}));
const grid = {color: '#000', type: [1, 3], width: 1};
const sup = v => {
  const e = Math.round(Math.log10(v));
  return '{b|10}{s|' + (e < 0 ? '\u2212' + (-e) : e) + '}';
};
const richLbl = {b: {fontSize: 15, fontFamily: FONT, color: '#000'}, s: {fontSize: 10.5, fontFamily: FONT, color: '#000', padding: [0, 0, 8, 0]}};

const xAxis = [], yAxis = [];
for (let g = 0; g < 4; g++) {
  const last = g === 3;
  ['bottom', 'top'].forEach(pos => {
    xAxis.push({
      type: 'value', gridIndex: g, position: pos, min: xRange[0], max: xRange[1],
      axisLine: {show: true, onZero: false, lineStyle: {color: '#000', width: 1}},
      axisTick: {show: true, inside: true, length: 5, lineStyle: {color: '#000'}},
      axisLabel: {show: last && pos === 'bottom', showMinLabel: false, showMaxLabel: false, fontSize: 15, fontFamily: FONT, color: '#000', margin: 4,
        formatter: v => String(Math.round(v))},
      splitLine: {show: pos === 'bottom', lineStyle: grid},
      name: (last && pos === 'bottom') ? 'Time [MJD]' : '', nameLocation: 'middle', nameGap: 24, nameMoveOverlap: false,
      nameTextStyle: {fontSize: 15, fontFamily: FONT, color: '#000'}
    });
  });
  const isLog = g < 3;
  ['left', 'right'].forEach(pos => {
    const ax = {
      type: isLog ? 'log' : 'value', logBase: 10, gridIndex: g, position: pos,
      min: yRanges[g][0], max: yRanges[g][1],
      axisLine: {show: true, onZero: false, lineStyle: {color: '#000', width: 1}},
      axisTick: {show: true, inside: true, length: 5, lineStyle: {color: '#000'}},
      minorTick: {show: isLog, splitNumber: 9, length: 2.5, lineStyle: {color: '#000'}},
      splitLine: {show: pos === 'left', lineStyle: grid},
      axisLabel: {show: pos === 'left', fontSize: 15, fontFamily: FONT, color: '#000', margin: 4,
        showMinLabel: g === 0 || g === 3, showMaxLabel: g === 2 || g === 3,
        formatter: isLog ? sup : (v => v.toFixed(1)), rich: richLbl},
      name: pos === 'left' ? yNames[g] : '', nameLocation: 'middle', nameGap: g === 3 ? 35 : 46, nameMoveOverlap: false,
      nameTextStyle: {fontSize: 15, fontFamily: FONT, color: '#000', rich: {sup: {fontSize: 10, fontFamily: FONT, color: '#000', padding: [0, 0, 7, 0]}}}
    };
    if (!isLog) ax.interval = 0.5;
    yAxis.push(ax);
  });
}

function errData(arr, relative, lo, hi) {
  return arr.map(d => {
    const e = relative ? d[1] * d[2] : d[2];
    let a = d[1] - e, b = d[1] + e, capA = 1, capB = 1;
    if (a <= lo) { a = lo; capA = 0; }
    if (b >= hi) { b = hi; capB = 0; }
    return [d[0], a, b, capA, capB];
  });
}
function errSeries(g, data, color) {
  return {
    type: 'custom', xAxisIndex: 2 * g, yAxisIndex: 2 * g, data: data, silent: true,
    encode: {x: 0, y: [1, 2]},
    renderItem: (params, api) => {
      const x = api.value(0);
      const p0 = api.coord([x, api.value(1)]), p1 = api.coord([x, api.value(2)]);
      const st = {stroke: color, lineWidth: 1.3};
      const ch = [{type: 'line', shape: {x1: p0[0], y1: p0[1], x2: p1[0], y2: p1[1]}, style: st}];
      if (api.value(3)) ch.push({type: 'line', shape: {x1: p0[0] - 4, y1: p0[1], x2: p0[0] + 4, y2: p0[1]}, style: st});
      if (api.value(4)) ch.push({type: 'line', shape: {x1: p1[0] - 4, y1: p1[1], x2: p1[0] + 4, y2: p1[1]}, style: st});
      return {type: 'group', children: ch};
    }
  };
}
const sc = (g, data, extra) => Object.assign({type: 'scatter', xAxisIndex: 2 * g, yAxisIndex: 2 * g, data: data, silent: true}, extra);

const series = [
  sc(0, rateDiamonds, {symbol: 'diamond', symbolSize: [9, 13], itemStyle: {color: GREEN}}),
  sc(0, rateDots, {symbol: 'circle', symbolSize: 3.5, itemStyle: {color: '#000'}}),
  sc(1, hardSoft, {symbol: 'circle', symbolSize: 5.5, itemStyle: {color: BLUE}}),
  sc(1, hardHard, {symbol: 'rect', symbolSize: 5, itemStyle: {color: RED}}),
  errSeries(2, errData(gaussHollow, true, yRanges[2][0], yRanges[2][1]), DARK),
  sc(2, gaussHollow, {symbol: 'diamond', symbolSize: [8, 12], itemStyle: {color: 'rgba(255,255,255,0)', borderColor: DARK, borderWidth: 1.3}}),
  errSeries(2, errData(gaussFilled, true, yRanges[2][0], yRanges[2][1]), 'rgba(0,179,134,0.75)'),
  sc(2, gaussFilled, {symbol: 'diamond', symbolSize: [8, 12], itemStyle: {color: GREEN}}),
  errSeries(3, errData(edgeFactor, false, yRanges[3][0], yRanges[3][1]), 'rgba(0,179,134,0.8)'),
  sc(3, edgeFactor, {symbol: 'diamond', symbolSize: [8, 12], itemStyle: {color: GREEN}})
];

const chart = echarts.init(document.getElementById('c'), null, {renderer: 'canvas'});
chart.setOption({animation: false, backgroundColor: '#fff', grid: grids, xAxis: xAxis, yAxis: yAxis, series: series});
</script>
</body></html>
